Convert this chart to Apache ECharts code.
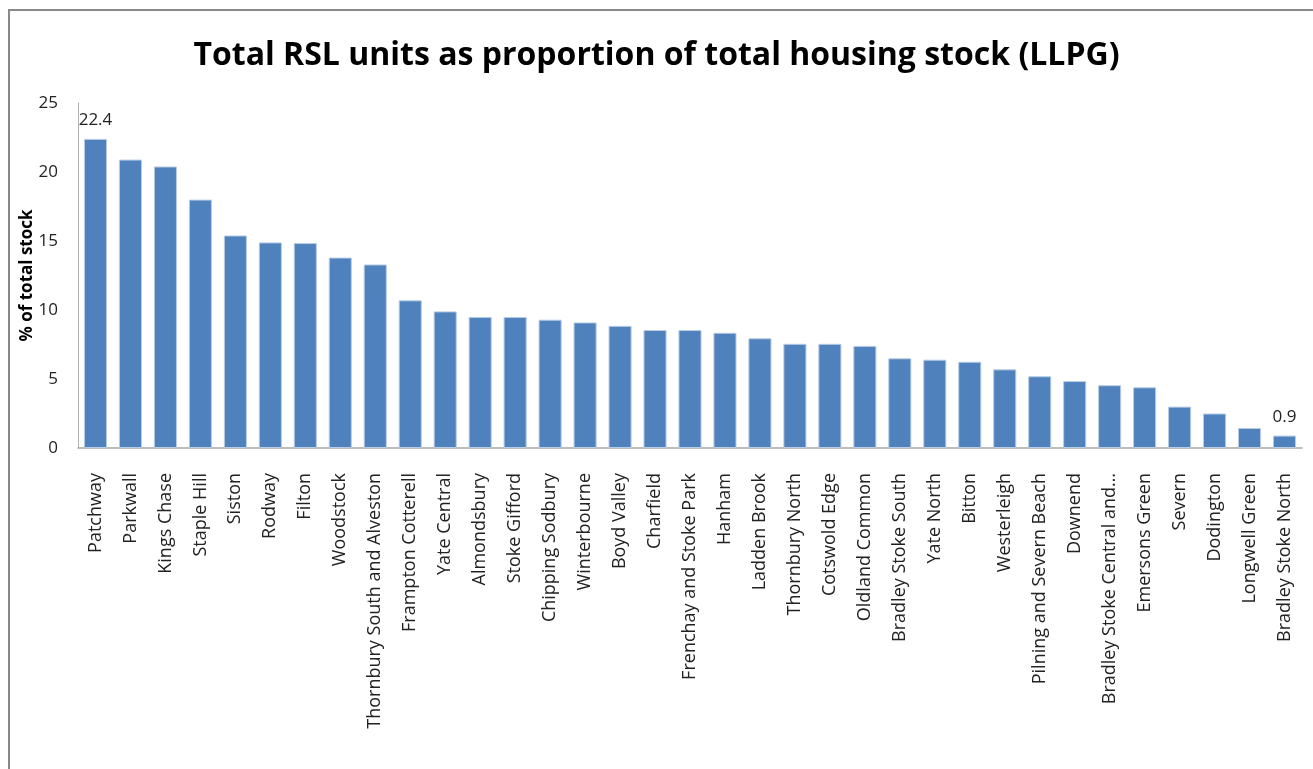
<!DOCTYPE html>
<html>
<head>
<meta charset="utf-8">
<title>Total RSL units as proportion of total housing stock</title>
<script src="https://cdn.jsdelivr.net/npm/echarts@6/dist/echarts.min.js"></script>
<style>
	html, body { margin: 0; padding: 0; background: #fff; }
	#chart { width: 1313px; height: 769px; }
</style>
</head>
<body>
	<div id="chart"></div>
	<script>
		var wards = ['Patchway', 'Parkwall', 'Kings Chase', 'Staple Hill', 'Siston', 'Rodway', 'Filton',
			'Woodstock', 'Thornbury South and Alveston', 'Frampton Cotterell', 'Yate Central', 'Almondsbury',
			'Stoke Gifford', 'Chipping Sodbury', 'Winterbourne', 'Boyd Valley', 'Charfield',
			'Frenchay and Stoke Park', 'Hanham', 'Ladden Brook', 'Thornbury North', 'Cotswold Edge',
			'Oldland Common', 'Bradley Stoke South', 'Yate North', 'Bitton', 'Westerleigh',
			'Pilning and Severn Beach', 'Downend', 'Bradley Stoke Central and\u2026', 'Emersons Green',
			'Severn', 'Dodington', 'Longwell Green', 'Bradley Stoke North'];
		var rslShare = [22.4, 20.9, 20.4, 18.0, 15.4, 14.9, 14.85, 13.8, 13.3, 10.7, 9.9, 9.5,
			9.5, 9.3, 9.1, 8.85, 8.55, 8.55, 8.35, 7.95, 7.55, 7.55,
			7.4, 6.5, 6.4, 6.25, 5.7, 5.2, 4.85, 4.55, 4.4,
			3.0, 2.5, 1.45, 0.9];
		var yTicks = [0, 5, 10, 15, 20, 25];

		// only first and last bars carry a value label
		var barData = rslShare.map(function (v, i) {
			return {
				value: v,
				label: { show: i === 0 || i === rslShare.length - 1 }
			};
		});

		var chart = echarts.init(document.getElementById('chart'));
		var option = {
			backgroundColor: '#fff',
			animation: false,
			textStyle: { fontFamily: 'Open Sans' },
			title: {
				text: 'Total RSL units as proportion of total housing stock (LLPG)',
				left: 'center',
				top: 35,
				textStyle: { fontFamily: 'Open Sans', fontSize: 32, fontWeight: 'bold', color: '#000' }
			},
			graphic: [{
				type: 'rect',
				shape: { x: 9, y: 10, width: 1330, height: 800 },
				style: { fill: 'none', stroke: '#888', lineWidth: 2 },
				silent: true
			}],
			grid: { left: 78, right: 11, top: 103, bottom: 321 },
			xAxis: {
				type: 'category',
				data: wards,
				axisLine: { lineStyle: { color: '#a6a6a6', width: 1.5 } },
				axisTick: { show: false },
				axisLabel: { rotate: 90, interval: 0, margin: 25, fontSize: 18, color: '#222' }
			},
			yAxis: {
				type: 'value',
				min: yTicks[0],
				max: yTicks[yTicks.length - 1],
				interval: 5,
				name: '% of total stock',
				nameLocation: 'middle',
				nameGap: 42,
				nameMoveOverlap: false,
				nameTextStyle: { fontSize: 17, fontWeight: 'bold', color: '#000' },
				axisLine: { show: true, lineStyle: { color: '#b0b0b0', width: 1 } },
				axisTick: { show: false },
				splitLine: { show: false },
				axisLabel: { fontSize: 17, color: '#222', margin: 20 }
			},
			series: [{
				type: 'bar',
				data: barData,
				barCategoryGap: '34%',
				itemStyle: { color: '#4f81bd', borderColor: '#b8cce4', borderWidth: 1 },
				label: {
					position: 'top',
					distance: 10,
					fontSize: 17,
					color: '#222',
					formatter: function (p) { return p.value.toFixed(1); }
				}
			}]
		};
		chart.setOption(option);
	</script>
</body>
</html>
